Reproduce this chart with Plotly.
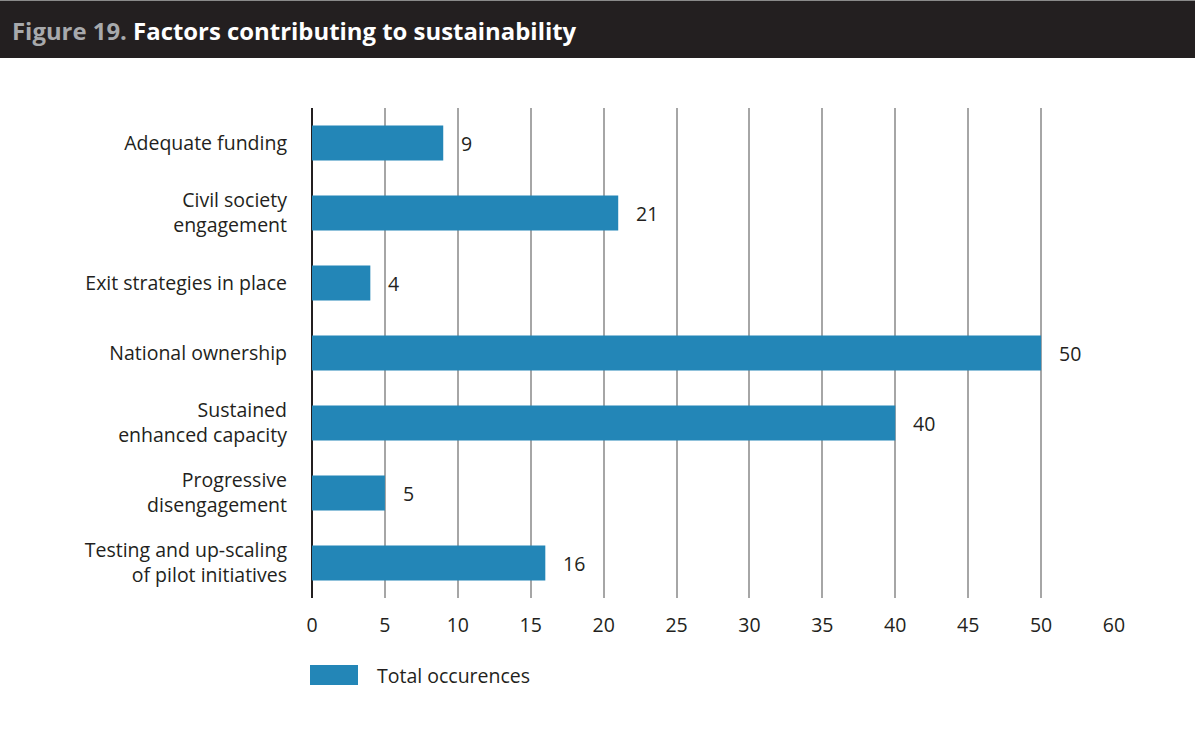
import plotly.graph_objects as go

# Factors and number of times each was cited
factors = [
    "Adequate funding",
    "Civil society<br>engagement",
    "Exit strategies in place",
    "National ownership",
    "Sustained<br>enhanced capacity",
    "Progressive<br>disengagement",
    "Testing and up-scaling<br>of pilot initiatives",
]
occurrences = [9, 21, 4, 50, 40, 5, 16]

tick_values = [0, 5, 10, 15, 20, 25, 30, 35, 40, 45, 50, 55]
tick_labels = ["0", "5", "10", "15", "20", "25", "30", "35", "40", "45", "50", "60"]

series_name = "Total occurences"
title_prefix = "Figure 19."
title_main = "Factors contributing to sustainability"

BAR = "#2386b7"
INK = "#231f20"
FONT = "'Open Sans', sans-serif"
TXT = 19.5

W, H = 1195, 740
L, R, T, B = 312, 81, 108, 142
PW, PH = W - L - R, H - T - B


def px_x(p):
    return (p - L) / PW


def px_y(p):
    return (H - B - p) / PH


fig = go.Figure()
fig.add_trace(go.Bar(
    x=occurrences,
    y=factors,
    orientation="h",
    marker=dict(color=BAR, line=dict(width=0)),
    width=0.5,
    name=series_name,
    showlegend=False,
    hoverinfo="x+y",
))

# Value labels just past the end of each bar
for f, v in zip(factors, occurrences):
    fig.add_annotation(
        x=v, y=f, xref="x", yref="y", text=str(v), showarrow=False,
        xanchor="left", xshift=16, font=dict(family=FONT, size=TXT, color=INK),
    )

# Header band
fig.add_shape(type="rect", xref="paper", yref="paper",
              x0=px_x(0), x1=px_x(W), y0=px_y(58), y1=px_y(1),
              fillcolor="#231f20", line=dict(width=0), layer="below")
fig.add_shape(type="line", xref="paper", yref="paper",
              x0=px_x(0), x1=px_x(W), y0=px_y(0.5), y1=px_y(0.5),
              line=dict(color="#8a8a8a", width=1))
fig.add_annotation(
    xref="paper", yref="paper", x=px_x(10), y=px_y(31),
    xanchor="left", yanchor="middle", showarrow=False,
    text=f"<b><span style='color:#a7a9ac'>{title_prefix}</span> {title_main}</b>",
    font=dict(family=FONT, size=23.9, color="white"),
)

# Legend key
fig.add_shape(type="rect", xref="paper", yref="paper",
              x0=px_x(310), x1=px_x(358), y0=px_y(685), y1=px_y(665),
              fillcolor=BAR, line=dict(width=0))
fig.add_annotation(
    xref="paper", yref="paper", x=px_x(375), y=px_y(675),
    xanchor="left", yanchor="middle", showarrow=False,
    text=series_name, font=dict(family=FONT, size=TXT, color=INK),
)

fig.update_layout(
    width=W, height=H,
    margin=dict(l=L, r=R, t=T, b=B, pad=0),
    paper_bgcolor="white", plot_bgcolor="white",
    font=dict(family=FONT, size=TXT, color=INK),
    bargap=0.5,
    xaxis=dict(
        range=[0, 55], tickvals=tick_values, ticktext=tick_labels,
        showgrid=True, gridcolor="#a6a6a6", gridwidth=1.5,
        zeroline=True, zerolinecolor=INK, zerolinewidth=1.5,
        showline=False, ticks="", ticklabelstandoff=13,
        tickfont=dict(family=FONT, size=TXT, color=INK), fixedrange=True,
    ),
    yaxis=dict(
        autorange=False, range=[6.5, -0.5],
        showgrid=False, showline=False, zeroline=False, ticks="",
        ticklabelstandoff=24,
        tickfont=dict(family=FONT, size=TXT, color=INK), fixedrange=True,
    ),
)

fig.write_html("out.html")
